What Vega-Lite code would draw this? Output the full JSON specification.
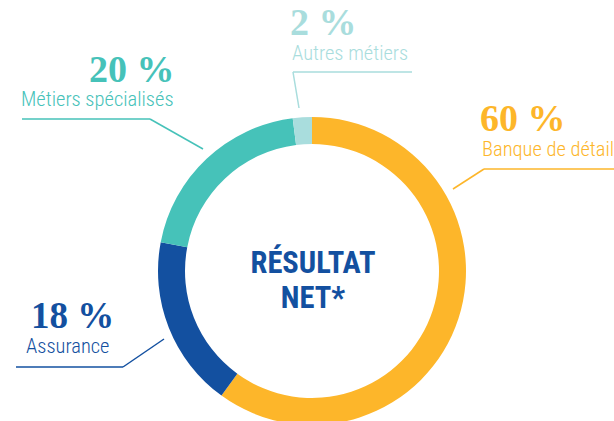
{
  "$schema": "https://vega.github.io/schema/vega-lite/v6.json",
  "width": 614,
  "height": 421,
  "autosize": "none",
  "padding": 0,
  "background": "white",
  "config": {"view": {"stroke": null}},
  "datasets": {
    "segments": [
      {"segment": "Banque de détail", "pct": 60, "pct_label": "60 %", "rank": 1},
      {"segment": "Assurance", "pct": 18, "pct_label": "18 %", "rank": 2},
      {"segment": "Métiers spécialisés", "pct": 20, "pct_label": "20 %", "rank": 3},
      {"segment": "Autres métiers", "pct": 2, "pct_label": "2 %", "rank": 4}
    ]
  },
  "data": {"name": "segments"},
  "layer": [
    {
      "mark": {"type": "arc", "radius": 154, "radius2": 127},
      "encoding": {
        "x": {"value": 312},
        "y": {"value": 271},
        "theta": {"field": "pct", "type": "quantitative", "stack": true},
        "order": {"field": "rank", "type": "quantitative"},
        "color": {
          "field": "segment",
          "type": "nominal",
          "legend": null,
          "scale": {
            "domain": ["Banque de détail", "Assurance", "Métiers spécialisés", "Autres métiers"],
            "range": ["#FDB62A", "#1350A0", "#46C2B9", "#A9DDDD"]
          }
        }
      }
    },
    {
      "transform": [{"filter": "datum.segment === 'Banque de détail'"}],
      "mark": {"type": "text", "x": 480, "y": 131, "align": "left", "baseline": "alphabetic", "font": "Liberation Serif", "fontWeight": "bold", "fontSize": 38, "color": "#FDB62A"},
      "encoding": {"text": {"field": "pct_label"}}
    },
    {
      "transform": [{"filter": "datum.segment === 'Banque de détail'"}],
      "mark": {"type": "text", "x": 482, "y": 156, "align": "left", "baseline": "alphabetic", "font": "Roboto Condensed", "fontWeight": 300, "fontSize": 20.5, "color": "#FDB62A"},
      "encoding": {"text": {"field": "segment"}}
    },
    {
      "transform": [{"filter": "datum.segment === 'Assurance'"}],
      "mark": {"type": "text", "x": 31, "y": 328, "align": "left", "baseline": "alphabetic", "font": "Liberation Serif", "fontWeight": "bold", "fontSize": 37, "color": "#1350A0"},
      "encoding": {"text": {"field": "pct_label"}}
    },
    {
      "transform": [{"filter": "datum.segment === 'Assurance'"}],
      "mark": {"type": "text", "x": 26, "y": 353, "align": "left", "baseline": "alphabetic", "font": "Roboto Condensed", "fontWeight": 300, "fontSize": 20.5, "color": "#1350A0"},
      "encoding": {"text": {"field": "segment"}}
    },
    {
      "transform": [{"filter": "datum.segment === 'Métiers spécialisés'"}],
      "mark": {"type": "text", "x": 89, "y": 82, "align": "left", "baseline": "alphabetic", "font": "Liberation Serif", "fontWeight": "bold", "fontSize": 38, "color": "#46C2B9"},
      "encoding": {"text": {"field": "pct_label"}}
    },
    {
      "transform": [{"filter": "datum.segment === 'Métiers spécialisés'"}],
      "mark": {"type": "text", "x": 21, "y": 106, "align": "left", "baseline": "alphabetic", "font": "Roboto Condensed", "fontWeight": 300, "fontSize": 20.5, "color": "#46C2B9"},
      "encoding": {"text": {"field": "segment"}}
    },
    {
      "transform": [{"filter": "datum.segment === 'Autres métiers'"}],
      "mark": {"type": "text", "x": 290, "y": 35, "align": "left", "baseline": "alphabetic", "font": "Liberation Serif", "fontWeight": "bold", "fontSize": 38, "color": "#A9DDDD"},
      "encoding": {"text": {"field": "pct_label"}}
    },
    {
      "transform": [{"filter": "datum.segment === 'Autres métiers'"}],
      "mark": {"type": "text", "x": 292, "y": 60, "align": "left", "baseline": "alphabetic", "font": "Roboto Condensed", "fontWeight": 300, "fontSize": 20.5, "color": "#A9DDDD"},
      "encoding": {"text": {"field": "segment"}}
    },
    {
      "data": {"values": [{}]},
      "mark": {"type": "text", "x": 313, "y": 273, "align": "center", "baseline": "alphabetic", "font": "Roboto Condensed", "fontWeight": "bold", "fontSize": 30.5, "lineHeight": 35, "color": "#1350A0", "text": ["RÉSULTAT", "NET*"]},
      "encoding": {}
    },
    {
      "data": {"values": [{}]},
      "mark": {"type": "rule", "strokeWidth": 1.5, "color": "#FDB62A"},
      "encoding": {"x": {"value": 484}, "y": {"value": 169}, "x2": {"value": 614}, "y2": {"value": 169}}
    },
    {
      "data": {"values": [{}]},
      "mark": {"type": "rule", "strokeWidth": 1.5, "color": "#FDB62A"},
      "encoding": {"x": {"value": 484}, "y": {"value": 169}, "x2": {"value": 453}, "y2": {"value": 189}}
    },
    {
      "data": {"values": [{}]},
      "mark": {"type": "rule", "strokeWidth": 1.5, "color": "#1350A0"},
      "encoding": {"x": {"value": 16}, "y": {"value": 367}, "x2": {"value": 123}, "y2": {"value": 367}}
    },
    {
      "data": {"values": [{}]},
      "mark": {"type": "rule", "strokeWidth": 1.5, "color": "#1350A0"},
      "encoding": {"x": {"value": 123}, "y": {"value": 367}, "x2": {"value": 164}, "y2": {"value": 339}}
    },
    {
      "data": {"values": [{}]},
      "mark": {"type": "rule", "strokeWidth": 1.5, "color": "#46C2B9"},
      "encoding": {"x": {"value": 22}, "y": {"value": 119}, "x2": {"value": 150}, "y2": {"value": 119}}
    },
    {
      "data": {"values": [{}]},
      "mark": {"type": "rule", "strokeWidth": 1.5, "color": "#46C2B9"},
      "encoding": {"x": {"value": 150}, "y": {"value": 119}, "x2": {"value": 203}, "y2": {"value": 149}}
    },
    {
      "data": {"values": [{}]},
      "mark": {"type": "rule", "strokeWidth": 1.5, "color": "#A9DDDD"},
      "encoding": {"x": {"value": 293}, "y": {"value": 72}, "x2": {"value": 412}, "y2": {"value": 72}}
    },
    {
      "data": {"values": [{}]},
      "mark": {"type": "rule", "strokeWidth": 1.5, "color": "#A9DDDD"},
      "encoding": {"x": {"value": 293}, "y": {"value": 72}, "x2": {"value": 299}, "y2": {"value": 108}}
    }
  ]
}
